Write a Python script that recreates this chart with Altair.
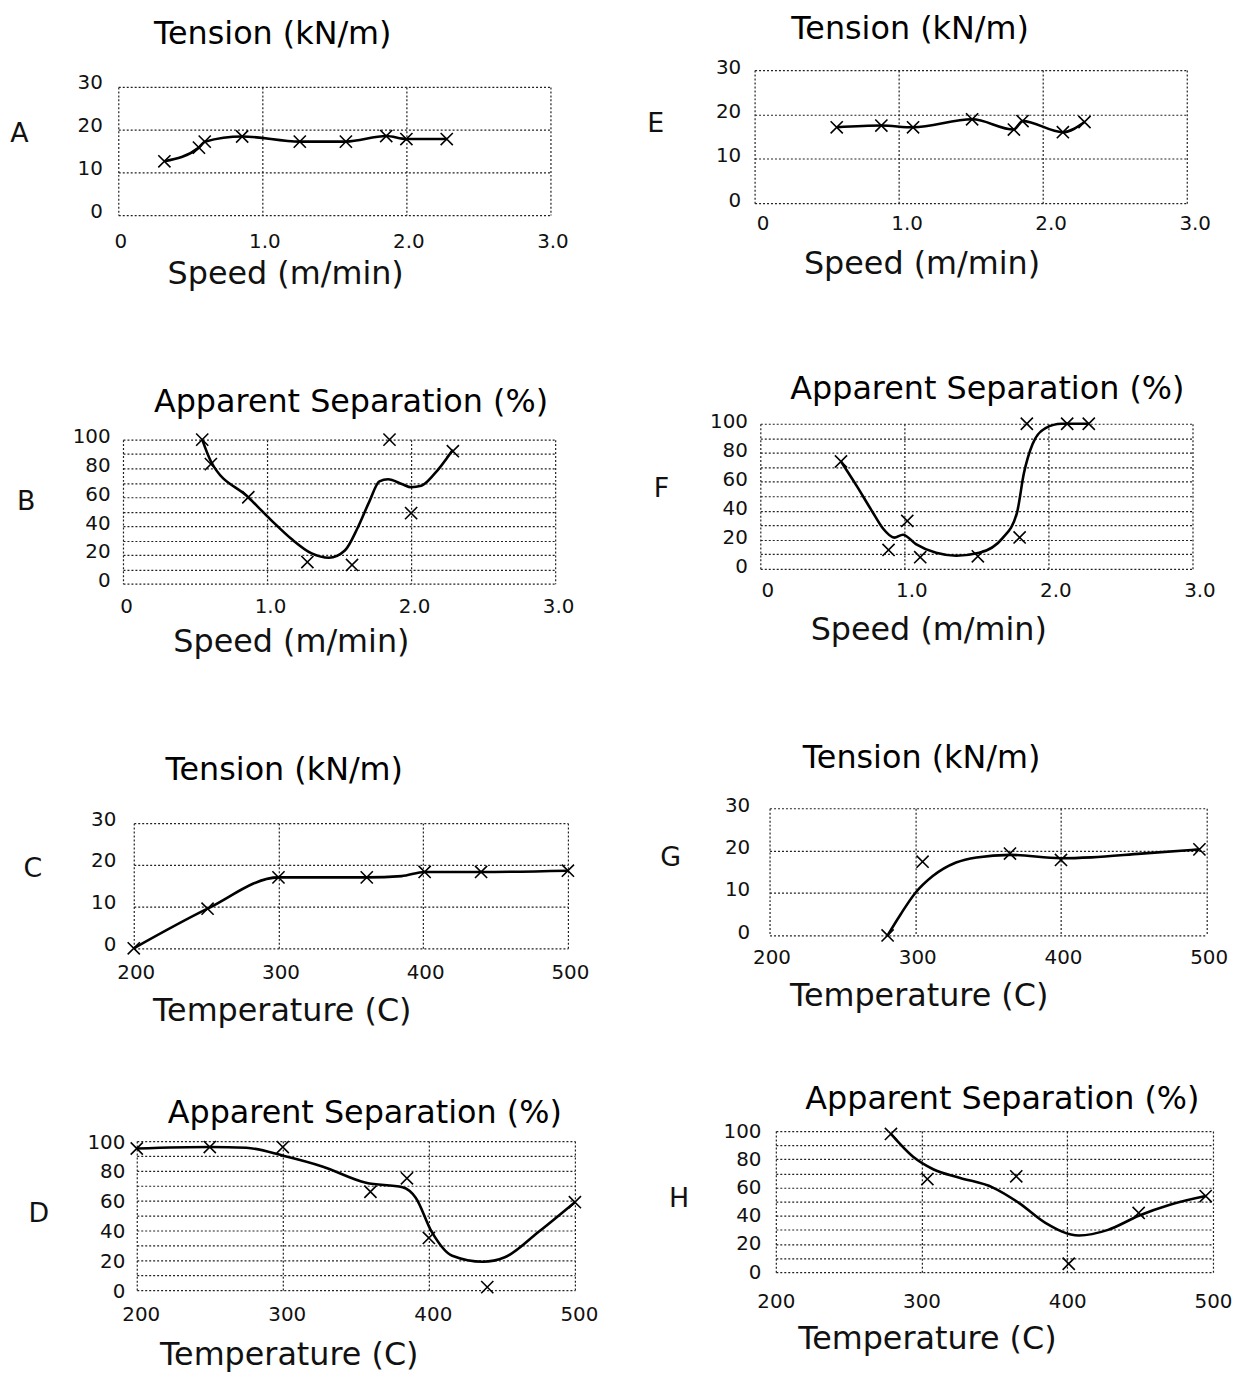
import altair as alt
import pandas as pd

FONT = "DejaVu Sans"
XSHAPE = "M-1,-1L1,1M-1,1L1,-1"

# ---------------- data ----------------
speed_ticks = [0, 1, 2, 3]
temp_ticks = [200, 300, 400, 500]
tension_ticks = [0, 10, 20, 30]
separation_ticks = [0, 10, 20, 30, 40, 50, 60, 70, 80, 90, 100]

# A: Tension vs Speed
A_mark_x = [0.32, 0.56, 0.60, 0.86, 1.26, 1.58, 1.86, 2.00, 2.28]
A_mark_y = [12.6, 15.8, 17.2, 18.4, 17.2, 17.2, 18.5, 17.8, 17.8]
A_curve_x = [0.32, 0.56, 0.60, 0.86, 1.26, 1.58, 1.86, 2.00, 2.28]
A_curve_y = [12.6, 15.8, 17.2, 18.4, 17.2, 17.2, 18.5, 17.8, 17.8]

# B: Apparent Separation vs Speed
B_mark_x = [0.55, 0.61, 0.87, 1.28, 1.59, 1.85, 2.00, 2.29]
B_mark_y = [100, 83, 60, 15, 13, 100, 49, 92]
B_curve_x = [0.55, 0.61, 0.87, 1.03, 1.17, 1.31, 1.43, 1.54, 1.63, 1.71, 1.78, 1.84, 1.94, 2.00, 2.07, 2.16, 2.29]
B_curve_y = [100, 85, 60, 44, 31, 21, 18, 23, 39, 57, 71, 72.5, 69, 67, 68, 76, 93]

# C: Tension vs Temperature
C_mark_x = [200, 251, 300, 361, 401, 440, 500]
C_mark_y = [0, 9.5, 17, 17, 18.3, 18.3, 18.6]
C_curve_x = [200, 251, 300, 361, 385, 401, 440, 500]
C_curve_y = [0, 9.5, 17, 17, 17.3, 18.3, 18.3, 18.6]

# D: Apparent Separation vs Temperature
D_mark_x = [200, 250, 300, 360, 385, 400, 440, 500]
D_mark_y = [95, 96, 96, 66, 75, 35, 2, 59]
D_curve_x = [200, 250, 275, 301, 327, 357, 382, 391, 402, 416, 437, 452, 475, 500]
D_curve_y = [95, 96, 95.5, 90, 83, 72, 69, 62, 39, 23, 19, 22, 39, 59]

# E: Tension vs Speed
E_mark_x = [0.57, 0.88, 1.10, 1.51, 1.80, 1.86, 2.14, 2.29]
E_mark_y = [17.1, 17.5, 17.1, 18.9, 16.6, 18.5, 16.0, 18.3]
E_curve_x = [0.57, 0.88, 1.10, 1.51, 1.80, 1.86, 2.14, 2.29]
E_curve_y = [17.1, 17.5, 17.1, 18.9, 16.6, 18.5, 16.0, 18.3]

# F: Apparent Separation vs Speed
F_mark_x = [0.56, 0.89, 1.02, 1.11, 1.51, 1.80, 1.85, 2.13, 2.28]
F_mark_y = [74, 13, 33, 8, 8.6, 21.6, 100, 100, 100]
F_curve_x = [0.56, 0.67, 0.78, 0.85, 0.93, 0.99, 1.08, 1.22, 1.36, 1.52, 1.68, 1.78, 1.83, 1.89, 1.98, 2.09, 2.28]
F_curve_y = [74, 57, 39, 28, 21.5, 23.5, 17, 11, 9, 11, 21, 38, 66, 86, 97, 100, 100]

# G: Tension vs Temperature
G_mark_x = [281, 305, 365, 400, 495]
G_mark_y = [0, 17.4, 19.3, 17.8, 20.3]
G_curve_x = [281, 290, 300, 312, 328, 342, 365, 400, 421, 455, 495]
G_curve_y = [0, 5, 10, 14, 17.2, 18.4, 19, 18.2, 18.4, 19.3, 20.3]

# H: Apparent Separation vs Temperature
H_mark_x = [279, 304, 365, 401, 449, 495]
H_mark_y = [98, 66, 68, 6, 42, 54]
H_curve_x = [279, 294, 308, 326, 349, 367, 385, 408, 428, 449, 471, 495]
H_curve_y = [98, 82, 73, 67, 60, 49, 35, 26, 30, 40, 48, 54]

TENSION = "Tension (kN/m)"
SEPARATION = "Apparent Separation (%)"
SPEED = "Speed (m/min)"
TEMPERATURE = "Temperature (C)"

TITLE_FS = 32
LETTER_FS = 27
LABEL_FS = 20
LETTER_W = {"A": 0.684, "B": 0.686, "C": 0.698, "D": 0.770,
            "E": 0.632, "F": 0.575, "G": 0.775, "H": 0.752}


def panel(p):
    if p["kx"] == "speed":
        xdom, xvals = [0, 3], speed_ticks
        xexpr = "datum.value == 0 ? '0' : format(datum.value, '.1f')"
        xtitle = SPEED
    else:
        xdom, xvals = [200, 500], temp_ticks
        xexpr = "datum.label"
        xtitle = TEMPERATURE
    if p["ky"] == "tension":
        ydom, yvals = [0, 30], tension_ticks
        yexpr = "datum.label"
        title = TENSION
    else:
        ydom, yvals = [0, 100], separation_ticks
        yexpr = "datum.value % 20 == 0 ? datum.label : ''"
        title = SEPARATION
    xaxis = alt.Axis(values=xvals, labelExpr=xexpr, title=xtitle,
                     titleX=p["xtx"], titleY=p["xty"], titleAlign="center",
                     titleBaseline="alphabetic", titleAngle=0, titleFontSize=TITLE_FS,
                     labelPadding=p["xpad"], labelOffset=p["xoff"])
    yaxis = alt.Axis(values=yvals, labelExpr=yexpr, title=p["letter"],
                     titleAngle=0, titleX=p["lcx"] - p["left"], titleY=p["lcy"] - p["top"],
                     titleAlign="center", titleBaseline="middle", titleFontSize=LETTER_FS,
                     labelPadding=p["ypad"], labelOffset=p["yoff"])
    X = alt.X("x:Q", scale=alt.Scale(domain=xdom, nice=False, zero=False), axis=xaxis)
    Y = alt.Y("y:Q", scale=alt.Scale(domain=ydom, nice=False, zero=False), axis=yaxis)
    line = alt.Chart(pd.DataFrame({"x": p["cx"], "y": p["cy"]})).mark_line(
        color="black", strokeWidth=2.6, interpolate="monotone"
    ).encode(x=X, y=Y)
    pts = alt.Chart(pd.DataFrame({"x": p["mx"], "y": p["my"]})).mark_point(
        shape=XSHAPE, size=150, filled=False, color="black", stroke="black",
        strokeWidth=1.6, opacity=1
    ).encode(x=X, y=Y)
    return alt.layer(line, pts).properties(
        width=p["w"], height=p["h"],
        title=alt.TitleParams(text=title, anchor="middle", frame="group", dx=p["tdx"],
                              offset=p["toff"], fontSize=TITLE_FS, font=FONT,
                              fontWeight="normal", color="black"),
    )


sp_df = pd.DataFrame({"v": [0]})


def sp(w, h):
    return alt.Chart(sp_df).mark_point(size=0, opacity=0).encode(
        x=alt.value(0), y=alt.value(0)
    ).properties(width=w, height=h)


# page-coordinate targets of every panel (plot rectangle, letter centre)
left_panels = [
    dict(letter="A", kx="speed", ky="tension", cx=A_curve_x, cy=A_curve_y, mx=A_mark_x, my=A_mark_y,
         left=117, top=85, w=435, h=129, lcx=17, lcy=132, tdx=-62, toff=22,
         xtx=168, xty=69, ypad=16, yoff=-4, xpad=17, xoff=2),
    dict(letter="B", kx="speed", ky="sep", cx=B_curve_x, cy=B_curve_y, mx=B_mark_x, my=B_mark_y,
         left=123, top=438, w=435, h=145, lcx=25, lcy=500, tdx=12, toff=8,
         xtx=169, xty=68, ypad=13, yoff=-3, xpad=13, xoff=3),
    dict(letter="C", kx="temp", ky="tension", cx=C_curve_x, cy=C_curve_y, mx=C_mark_x, my=C_mark_y,
         left=134, top=822, w=437, h=126, lcx=32, lcy=868, tdx=-67, toff=22,
         xtx=149, xty=73, ypad=18, yoff=-4, xpad=14, xoff=2),
    dict(letter="D", kx="temp", ky="sep", cx=D_curve_x, cy=D_curve_y, mx=D_mark_x, my=D_mark_y,
         left=137, top=1140, w=441, h=150, lcx=38, lcy=1213, tdx=9, toff=2,
         xtx=153, xty=75, ypad=12, yoff=1, xpad=15, xoff=4),
]
right_panels = [
    dict(letter="E", kx="speed", ky="tension", cx=E_curve_x, cy=E_curve_y, mx=E_mark_x, my=E_mark_y,
         left=757, top=68, w=435, h=134, lcx=657, lcy=122, tdx=-61, toff=11,
         xtx=168, xty=71, ypad=14, yoff=-3, xpad=10, xoff=8),
    dict(letter="F", kx="speed", ky="sep", cx=F_curve_x, cy=F_curve_y, mx=F_mark_x, my=F_mark_y,
         left=763, top=422, w=435, h=146, lcx=663, lcy=487, tdx=11, toff=6,
         xtx=169, xty=71, ypad=13, yoff=-2, xpad=12, xoff=7),
    dict(letter="G", kx="temp", ky="tension", cx=G_curve_x, cy=G_curve_y, mx=G_mark_x, my=G_mark_y,
         left=772, top=807, w=440, h=128, lcx=672, lcy=857, tdx=-67, toff=20,
         xtx=150, xty=71, ypad=20, yoff=-3, xpad=12, xoff=2),
    dict(letter="H", kx="temp", ky="sep", cx=H_curve_x, cy=H_curve_y, mx=H_mark_x, my=H_mark_y,
         left=778, top=1130, w=440, h=142, lcx=680, lcy=1198, tdx=8, toff=5,
         xtx=152, xty=77, ypad=15, yoff=0, xpad=20, xoff=0),
]

ORIGIN = 8
COL_L_X = 8
COL_L_W = 620
COL_GAP = 14
COL_R_X = COL_L_X + COL_L_W + 12
TOP_BOX = 1.1 * TITLE_FS     # vertical extent taken by a title line
DESCENT = 0.06 * TITLE_FS    # extent of an x title below its baseline


def column(panels, col_x, first_w):
    items = []
    cur = ORIGIN  # page y of the bottom of what is placed so far
    for i, p in enumerate(panels):
        top_rel = -(max(0, LABEL_FS / 2 - p["yoff"]) + p["toff"] + TOP_BOX)
        bottom_rel = p["h"] + p["xty"] + DESCENT
        gap = max(1, p["top"] + top_rel - cur)
        items.append(sp(first_w if i == 0 else 1, gap))
        cur += gap
        actual_top = cur - top_rel
        lw = LETTER_W[p["letter"]] * LETTER_FS
        bbox_left = p["lcx"] - lw / 2
        shift = max(0, bbox_left - col_x - 1)
        items.append(alt.hconcat(sp(1, 1), panel(p), spacing=shift))
        cur = actual_top + bottom_rel
    return alt.vconcat(*items, spacing=0)


colL = column(left_panels, COL_L_X, COL_L_W)
colR = column(right_panels, COL_R_X, 1)

chart = alt.hconcat(colL, colR, spacing=COL_GAP).properties(
    padding=0
).configure_view(
    strokeWidth=0
).configure_axis(
    domain=False, ticks=False, tickSize=0, grid=True,
    gridDash=[2, 2], gridColor="#222222", gridWidth=1.2,
    labelFont=FONT, labelFontSize=LABEL_FS, labelColor="#111111",
    titleFont=FONT, titleFontWeight="normal", titleColor="#111111",
    labelFlush=False, labelOverlap=False,
)

chart.save("out.html", embed_options={"renderer": "svg", "actions": False})
